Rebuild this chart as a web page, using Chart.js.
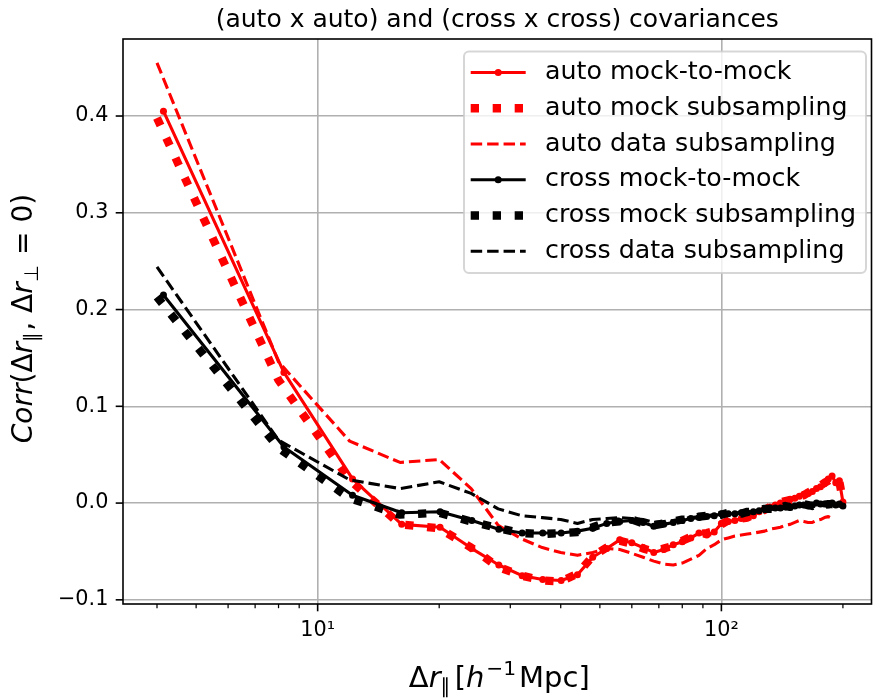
<!DOCTYPE html>
<html><head><meta charset="utf-8">
<script src="https://cdn.jsdelivr.net/npm/chart.js@4.4.0/dist/chart.umd.min.js"></script>
<style>html,body{margin:0;padding:0;background:#fff;} canvas{display:block;}</style>
</head><body>
<canvas id="c" width="875" height="699"></canvas>
<script>
// ---------------- data ----------------
const r = [4,8,12,16,20,24,28,32,36,40,44,48,52,56,60,64,68,72,76,80,84,88,92,96,100,
  104,108,112,116,120,124,128,132,136,140,144,148,152,156,160,164,168,172,176,180,184,188,192,196,200];
const rMock = [4.15,8.25,12.2,16.15,20.1,24.1,28.1,32.1,36.1,40.1,44,48,52,56,60,64,68,72,76,80,84,88,92,96,100,
  104,108,112,116,120,124,128,132,136,140,144,148,152,156,160,164,168,172,176,180,184,188,192,196,200];

const autoMock = [0.405,0.135,0.025,-0.022,-0.025,-0.047,-0.064,-0.075,-0.079,-0.080,-0.074,-0.056,-0.047,-0.038,-0.041,-0.046,-0.051,-0.048,-0.043,-0.040,-0.036,-0.031,-0.033,-0.030,-0.021,
  -0.019,-0.018,-0.016,-0.014,-0.013,-0.009,-0.006,-0.004,-0.002,0.000,0.002,0.004,0.005,0.007,0.009,0.010,0.012,0.015,0.017,0.020,0.025,0.028,0.021,0.023,0.001];
const autoSub = [0.398,0.127,0.024,-0.022,-0.026,-0.046,-0.066,-0.075,-0.080,-0.081,-0.073,-0.055,-0.046,-0.039,-0.042,-0.047,-0.050,-0.047,-0.044,-0.039,-0.035,-0.032,-0.031,-0.029,-0.022,
  -0.018,-0.017,-0.016,-0.015,-0.012,-0.010,-0.007,-0.004,-0.003,0.001,0.002,0.003,0.006,0.008,0.008,0.011,0.013,0.014,0.018,0.021,0.023,0.026,0.022,0.022,0.002];
const autoData = [0.455,0.146,0.064,0.042,0.045,0.015,-0.023,-0.037,-0.046,-0.051,-0.054,-0.051,-0.047,-0.048,-0.052,-0.056,-0.060,-0.063,-0.064,-0.062,-0.058,-0.054,-0.047,-0.043,-0.038,
  -0.036,-0.034,-0.033,-0.032,-0.031,-0.030,-0.029,-0.027,-0.026,-0.025,-0.023,-0.022,-0.020,-0.018,-0.019,-0.020,-0.020,-0.018,-0.017,-0.015,-0.014,-0.016,null,null,null];
const crossMock = [0.215,0.058,0.008,-0.010,-0.009,-0.018,-0.027,-0.031,-0.031,-0.031,-0.029,-0.026,-0.021,-0.019,-0.018,-0.020,-0.024,-0.022,-0.020,-0.018,-0.016,-0.015,-0.014,-0.013,-0.011,
  -0.011,-0.011,-0.010,-0.010,-0.009,-0.008,-0.006,-0.005,-0.005,-0.005,-0.004,-0.004,-0.003,-0.002,-0.002,-0.003,-0.002,0.000,-0.001,-0.001,-0.002,0.000,-0.002,-0.001,-0.003];
const crossSub = [0.213,0.057,0.005,-0.012,-0.010,-0.019,-0.026,-0.031,-0.032,-0.031,-0.030,-0.025,-0.020,-0.019,-0.017,-0.021,-0.023,-0.021,-0.019,-0.017,-0.017,-0.014,-0.013,-0.014,-0.012,
  -0.010,-0.010,-0.011,-0.009,-0.009,-0.007,-0.006,-0.006,-0.004,-0.005,-0.003,-0.004,-0.002,-0.003,-0.001,-0.002,-0.003,-0.001,0.000,-0.002,-0.001,-0.001,-0.002,-0.002,-0.003];
const crossData = [0.244,0.065,0.024,0.015,0.022,0.010,-0.006,-0.013,-0.015,-0.017,-0.021,-0.017,-0.016,-0.015,-0.016,-0.017,-0.020,-0.019,-0.018,-0.016,-0.015,-0.014,-0.013,-0.012,-0.011,
  -0.011,-0.010,-0.010,-0.009,-0.008,-0.008,-0.007,-0.006,-0.006,-0.005,-0.004,-0.004,-0.003,-0.003,-0.002,-0.002,-0.001,-0.001,0.000,-0.001,0.000,-0.001,-0.002,-0.003,-0.004];

const seriesLabels = ['auto mock-to-mock','auto mock subsampling','auto data subsampling',
                      'cross mock-to-mock','cross mock subsampling','cross data subsampling'];
const xTickValues = [4,5,6,7,8,9,10,20,30,40,50,60,70,80,90,100,200];
const xMajor = [10,100];
const xTickLabels = {10:'10\u00B9', 100:'10\u00B2'};
const yTickValues = [-0.1,0,0.1,0.2,0.3,0.4];
const yTickLabels = ['\u22120.1','0.0','0.1','0.2','0.3','0.4'];
const titleText = '(auto x auto) and (cross x cross) covariances';

// ---------------- styles ----------------
const FONT = "'DejaVu Sans', sans-serif";
const LW = 3.1, DOTW = 8.3;
function pts(xs, ys){ return xs.map((x,i)=>({x:x, y:ys[i]})); }
function solid(color, xs, ys){ return {data:pts(xs,ys), borderColor:color, backgroundColor:color, borderWidth:LW,
  pointRadius:3.5, pointBorderWidth:0, pointBackgroundColor:color, pointHoverRadius:0, borderJoinStyle:'round', tension:0}; }
function dotted(color, xs, ys){ return {data:pts(xs,ys), borderColor:color, backgroundColor:color, borderWidth:DOTW,
  borderDash:[DOTW, DOTW*1.65], borderCapStyle:'butt', pointRadius:0, pointHoverRadius:0, borderJoinStyle:'round', tension:0}; }
function dashed(color, xs, ys){ return {data:pts(xs,ys), borderColor:color, backgroundColor:color, borderWidth:LW,
  borderDash:[LW*3.7, LW*1.6], borderCapStyle:'butt', pointRadius:0, pointHoverRadius:0, borderJoinStyle:'round', tension:0}; }

const datasets = [
  solid('#ff0000', rMock, autoMock),
  dotted('#ff0000', r, autoSub),
  dashed('#ff0000', r, autoData),
  solid('#000000', rMock, crossMock),
  dotted('#000000', r, crossSub),
  dashed('#000000', r, crossData)
];
datasets.forEach((d,i)=>{ d.label = seriesLabels[i]; d.order = datasets.length - i; d.spanGaps = false; });

function fontFor(s, size){ const sz = (s.sub||s.sup) ? size*0.7 : size; return (s.it?'italic ':'') + sz.toFixed(1) + 'px ' + FONT; }
function segW(ctx, s, size){ ctx.font = fontFor(s,size); return ctx.measureText(s.t).width + (s.gap||0)*size; }
function drawRich(ctx, segs, cx, by, size){
  let w = 0;
  segs.forEach(s=>{ w += segW(ctx, s, size); });
  let x = cx - w/2;
  ctx.textAlign = 'left'; ctx.textBaseline = 'alphabetic';
  segs.forEach(s=>{
    ctx.font = fontFor(s,size);
    const dy = s.sub ? size*0.22 : (s.sup ? -size*0.42 : 0);
    ctx.fillText(s.t, x, by+dy);
    x += segW(ctx, s, size);
  });
}

const deco = {
  id:'deco',
  afterDraw(chart){
    const ctx = chart.ctx, a = chart.chartArea, xs = chart.scales.x, ys = chart.scales.y;
    ctx.save();
    ctx.strokeStyle = '#000'; ctx.fillStyle = '#000';
    ctx.lineWidth = 1.6;
    ctx.strokeRect(a.left, a.top, a.right-a.left, a.bottom-a.top);
    xs.ticks.forEach(t=>{
      const px = xs.getPixelForValue(t.value), major = xMajor.includes(t.value);
      ctx.lineWidth = major ? 1.6 : 1.25;
      ctx.beginPath(); ctx.moveTo(px, a.bottom); ctx.lineTo(px, a.bottom + (major?7.3:4.2)); ctx.stroke();
    });
    ys.ticks.forEach(t=>{
      const py = ys.getPixelForValue(t.value);
      ctx.lineWidth = 1.6;
      ctx.beginPath(); ctx.moveTo(a.left, py); ctx.lineTo(a.left-7.3, py); ctx.stroke();
    });
    // title
    ctx.font = '25px ' + FONT; ctx.textAlign = 'center'; ctx.textBaseline = 'alphabetic';
    ctx.fillText(titleText, (a.left+a.right)/2, 27);
    // x label
    drawRich(ctx, [{t:'\u0394'},{t:'r',it:1},{t:'\u2225',sub:1,gap:0.14},{t:'['},{t:'h',it:1,gap:0.06},{t:'\u22121',sup:1,gap:0.1},{t:'Mpc]'}],
      (a.left+a.right)/2 + 2, 687, 29);
    // y label
    ctx.save();
    ctx.translate(32, (a.top+a.bottom)/2 - 3);
    ctx.rotate(-Math.PI/2);
    drawRich(ctx, [{t:'Corr',it:1},{t:'('},{t:'\u0394'},{t:'r',it:1},{t:'\u2225',sub:1,gap:0.05},{t:', '},{t:'\u0394'},{t:'r',it:1},{t:'\u22A5',sub:1,gap:0.05},{t:' = '},{t:'0'},{t:')'}],
      0, 0, 28);
    ctx.restore();
    // legend
    const L = {x0:464, y0:51.5, x1:866, y1:273};
    ctx.beginPath();
    ctx.roundRect(L.x0, L.y0, L.x1-L.x0, L.y1-L.y0, 5);
    ctx.fillStyle = 'rgba(255,255,255,0.8)'; ctx.fill();
    ctx.strokeStyle = 'rgba(204,204,204,0.8)'; ctx.lineWidth = 2; ctx.stroke();
    chart.data.datasets.forEach((d,i)=>{
      const cy = 72.5 + i*35.75;
      ctx.save();
      ctx.strokeStyle = d.borderColor; ctx.lineWidth = d.borderWidth;
      ctx.setLineDash(d.borderDash || []); ctx.lineCap = 'butt';
      ctx.beginPath(); ctx.moveTo(470.7, cy); ctx.lineTo(525.7, cy); ctx.stroke();
      if (d.pointRadius > 0) {
        ctx.setLineDash([]); ctx.fillStyle = d.borderColor;
        ctx.beginPath(); ctx.arc(498.2, cy, d.pointRadius, 0, Math.PI*2); ctx.fill();
      }
      ctx.restore();
      ctx.fillStyle = '#000'; ctx.font = '25.3px ' + FONT; ctx.textAlign = 'left'; ctx.textBaseline = 'middle';
      ctx.fillText(d.label, 545, cy);
    });
    ctx.restore();
  }
};

new Chart(document.getElementById('c'), {
  type:'line',
  data:{datasets:datasets},
  plugins:[deco],
  options:{
    responsive:false, animation:false, devicePixelRatio:1,
    layout:{padding:{top:39, right:2, left:0, bottom:0}},
    plugins:{legend:{display:false}, title:{display:false}, tooltip:{enabled:false}},
    events:[],
    scales:{
      x:{type:'logarithmic', bounds:'data', min:3.295, max:235.4,
        afterBuildTicks:(s)=>{ s.ticks = xTickValues.map(v=>({value:v, major:xMajor.includes(v)})); },
        afterFit:(s)=>{ s.height = 95; },
        ticks:{autoSkip:false, maxRotation:0, minRotation:0, padding:7.3, color:'#000',
          font:{family:FONT, size:20.8},
          callback:(v)=> xTickLabels[v] || ''},
        grid:{color:(c)=> (c.tick && xMajor.includes(c.tick.value)) ? '#b0b0b0' : 'rgba(0,0,0,0)',
          lineWidth:1.6, tickLength:7.3, tickColor:'rgba(0,0,0,0)', drawTicks:true},
        border:{display:false}
      },
      y:{type:'linear', bounds:'data', min:-0.1043, max:0.4796,
        afterBuildTicks:(s)=>{ s.ticks = yTickValues.map(v=>({value:v})); },
        afterFit:(s)=>{ s.width = 123; },
        ticks:{padding:7.3, color:'#000', font:{family:FONT, size:20.8},
          callback:(v)=>{ const i = yTickValues.findIndex(t=>Math.abs(t-v)<1e-9); return i>=0 ? yTickLabels[i] : ''; }},
        grid:{color:'#b0b0b0', lineWidth:1.6, tickLength:7.3, tickColor:'rgba(0,0,0,0)', drawTicks:true},
        border:{display:false}
      }
    }
  }
});
</script>
</body></html>
